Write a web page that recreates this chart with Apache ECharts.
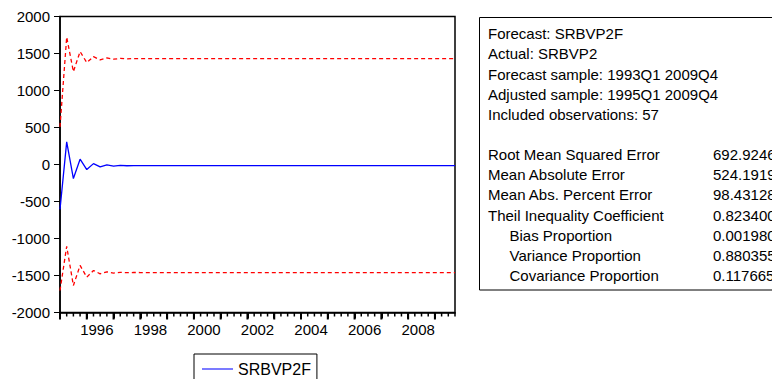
<!DOCTYPE html>
<html>
<head>
<meta charset="utf-8">
<script src="https://cdn.jsdelivr.net/npm/echarts@6/dist/echarts.min.js"></script>
<style>
html,body{margin:0;padding:0;background:#fff;}
#chart{width:772px;height:379px;}
</style>
</head>
<body>
<div id="chart"></div>
<script>
// ---- data ----
const years = [1995,1996,1997,1998,1999,2000,2001,2002,2003,2004,2005,2006,2007,2008,2009];
const yearLabels = ['1996','1998','2000','2002','2004','2006','2008'];
const forecast = [-606,306,-190,72,-68,12,-32,-5,-22,-12,-17,-14,
  -15,-15,-15,-15,-15,-15,-15,-15,-15,-15,-15,-15,
  -15,-15,-15,-15,-15,-15,-15,-15,-15,-15,-15,-15,
  -15,-15,-15,-15,-15,-15,-15,-15,-15,-15,-15,-15,
  -15,-15,-15,-15,-15,-15,-15,-15,-15,-15,-15,-15];
const upperBand = [509,1721,1255,1526,1377,1458,1413,1440,1423,1433,1428,1431,
  1430,1430,1430,1430,1430,1430,1430,1430,1430,1430,1430,1430,
  1430,1430,1430,1430,1430,1430,1430,1430,1430,1430,1430,1430,
  1430,1430,1430,1430,1430,1430,1430,1430,1430,1430,1430,1430,
  1430,1430,1430,1430,1430,1430,1430,1430,1430,1430,1430,1430];
const lowerBand = [-1703,-1107,-1635,-1364,-1523,-1432,-1477,-1450,-1467,-1457,-1462,-1459,
  -1460,-1460,-1460,-1460,-1460,-1460,-1460,-1460,-1460,-1460,-1460,-1460,
  -1460,-1460,-1460,-1460,-1460,-1460,-1460,-1460,-1460,-1460,-1460,-1460,
  -1460,-1460,-1460,-1460,-1460,-1460,-1460,-1460,-1460,-1460,-1460,-1460,
  -1460,-1460,-1460,-1460,-1460,-1460,-1460,-1460,-1460,-1460,-1460,-1460];
const headerLines = ['Forecast: SRBVP2F','Actual: SRBVP2','Forecast sample: 1993Q1 2009Q4','Adjusted sample: 1995Q1 2009Q4','Included observations: 57'];
const statNames = ['Root Mean Squared Error','Mean Absolute Error','Mean Abs. Percent Error','Theil Inequality Coefficient','Bias Proportion','Variance Proportion','Covariance Proportion'];
const statIndent = [0,0,0,0,1,1,1];
const statValues = ['692.9246','524.1919','98.43128','0.823400','0.001980','0.880355','0.117665'];
const Y_MIN = -2000, Y_MAX = 2000;

// ---- build ----
const quarters = [];
years.forEach(y => { for (let q = 1; q <= 4; q++) quarters.push(y + 'Q' + q); });
const nQ = quarters.length;
const halfCats = [];
for (let j = 0; j < nQ * 2 - 1; j++) halfCats.push('h' + j);
const labelAt = {};
yearLabels.forEach((l, k) => { labelAt[11 + 16 * k] = l; });
const majorTicks = [], minorTicks = [];
quarters.forEach((q, i) => { (i % 4 === 0 ? majorTicks : minorTicks).push([i, Y_MIN]); });

const FONT = "'Liberation Sans', Arial, sans-serif";
const chart = echarts.init(document.getElementById('chart'), null, {renderer: 'svg'});

const graphics = [];
graphics.push({type:'rect', shape:{x:479.5, y:17.5, width:400, height:272.5},
  style:{fill:'#fff', stroke:'#000', lineWidth:1}, z:10});
const lh = 20.15, y0 = 33.7;
headerLines.forEach((t, i) => {
  graphics.push({type:'text', x:488, y:y0 + i*lh, z:11,
    style:{text:t, fill:'#000', fontSize:15, fontFamily:FONT, verticalAlign:'middle', textVerticalAlign:'middle'}});
});
statNames.forEach((t, i) => {
  const yy = y0 + (i + headerLines.length + 1) * lh;
  graphics.push({type:'text', x:488 + statIndent[i]*21.5, y:yy, z:11,
    style:{text:t, fill:'#000', fontSize:15, fontFamily:FONT, verticalAlign:'middle', textVerticalAlign:'middle'}});
  graphics.push({type:'text', x:713, y:yy, z:11,
    style:{text:statValues[i], fill:'#000', fontSize:15, fontFamily:FONT, verticalAlign:'middle', textVerticalAlign:'middle'}});
});

const option = {
  animation: false,
  backgroundColor: '#fff',
  textStyle: {fontFamily: FONT},
  grid: {left:60, right:317, top:16.5, bottom:66.5, show:true, borderColor:'#000', borderWidth:1.5, backgroundColor:'transparent'},
  legend: {
    data: [{name:'SRBVP2F', icon:'rect'}], left: 194, top: 354, orient: 'horizontal',
    borderColor: '#000', borderWidth: 1, padding: [7, 6, 12, 8],
    itemWidth: 31, itemHeight: 1.3, selectedMode: false,
    itemStyle: {color:'#3333ff'},
    textStyle: {fontSize: 16, color: '#000', fontFamily: FONT, lineHeight: 16}
  },
  xAxis: [
    {type:'category', data:quarters, boundaryGap:false, position:'bottom',
      axisLine:{show:true, onZero:false, lineStyle:{color:'#000', width:1.5}},
      axisTick:{show:true, length:6, interval:(i) => i % 4 === 0, lineStyle:{color:'#000', width:2}},
      axisLabel:{show:false}, splitLine:{show:false}},
    {type:'category', data:halfCats, boundaryGap:false, position:'bottom',
      axisLine:{show:false, onZero:false}, axisTick:{show:false},
      axisLabel:{show:true, interval:(i) => labelAt[i] !== undefined, margin:9,
        formatter:(v, i) => labelAt[i] || '', fontSize:15, color:'#000', fontFamily:FONT},
      splitLine:{show:false}}
  ],
  yAxis: {
    type:'value', min:Y_MIN, max:Y_MAX, interval:500,
    axisLine:{show:true, onZero:false, lineStyle:{color:'#000', width:1.5}},
    axisTick:{show:true, length:6, lineStyle:{color:'#000', width:1}},
    axisLabel:{fontSize:15, color:'#000', margin:10, fontFamily:FONT, formatter:(v) => String(v)},
    splitLine:{show:false}
  },
  series: [
    {name:'SRBVP2F', type:'line', data:forecast, xAxisIndex:0, symbol:'none',
      lineStyle:{color:'#0000ff', width:1.3}, itemStyle:{color:'#0000ff'}, z:3},
    {name:'Upper', type:'line', data:upperBand, xAxisIndex:0, symbol:'none',
      lineStyle:{color:'#ff0000', width:1.3, type:[4,3]}, itemStyle:{color:'#ff0000'}, z:2},
    {name:'Lower', type:'line', data:lowerBand, xAxisIndex:0, symbol:'none',
      lineStyle:{color:'#ff0000', width:1.3, type:[4,3]}, itemStyle:{color:'#ff0000'}, z:2},
    {name:'majorTick', type:'scatter', data:majorTicks, xAxisIndex:0, clip:false, silent:true,
      symbol:'rect', symbolSize:[2, 7], symbolOffset:[0, 3.5], itemStyle:{color:'#000', opacity:1}, z:5},
    {name:'minorTick', type:'scatter', data:minorTicks, xAxisIndex:0, clip:false, silent:true,
      symbol:'rect', symbolSize:[1.5, 4], symbolOffset:[0, 2], itemStyle:{color:'#000', opacity:1}, z:5}
  ],
  graphic: graphics
};
chart.setOption(option);
</script>
</body>
</html>
